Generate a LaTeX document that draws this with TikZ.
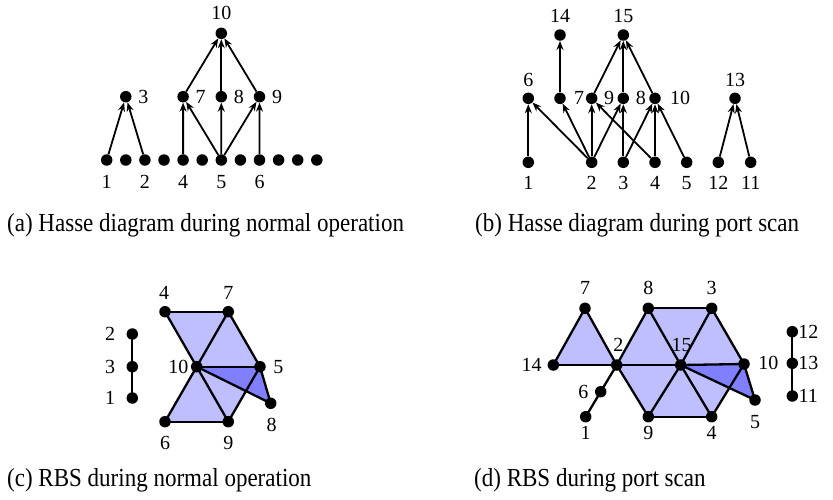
\documentclass[tikz,border=0pt]{standalone}
\usepackage{fontspec}
\setmainfont{Liberation Serif}
\usepackage{graphicx}
\usetikzlibrary{arrows.meta}
\pgfdeclarelayer{bg}
\pgfsetlayers{bg,main}
\definecolor{lite}{RGB}{191,191,255}
\definecolor{dark}{RGB}{128,128,255}
\tikzset{
  vtx/.style={circle, fill=black, inner sep=0pt, minimum size=11.5pt},
  num/.style={font=\fontsize{20}{24}\selectfont, inner sep=0pt},
  captext/.style={font=\fontsize{26}{30}\selectfont, inner sep=0pt, anchor=base west},
  cover/.style={line width=1.8pt, -{Stealth[open, length=9pt, width=7pt]}},
  rbsline/.style={line width=2.3pt},
}
\newcommand{\squeeze}[1]{\scalebox{0.885}[1]{#1}}

\begin{document}
\begin{tikzpicture}[x=1pt, y=-1pt]
    \useasboundingbox (0,0) rectangle (833,499);

    % (a) Hasse diagram, normal operation
    \foreach \i in {0,...,11}
        \node[vtx] (ab\i) at (106.7+19.1*\i, 160) {};
    \node[vtx] (a3) at (125.8, 96.7) {};
    \node[vtx] (a7) at (183.1, 96.7) {};
    \node[vtx] (a8) at (221.3, 96.7) {};
    \node[vtx] (a9) at (259.5, 96.7) {};
    \node[vtx] (a10) at (221.3, 33.3) {};
    \foreach \s/\t in {ab0/a3, ab2/a3, ab4/a7, ab6/a7, ab6/a8, ab6/a9, ab8/a9, a7/a10, a8/a10, a9/a10}
        \draw[cover] (\s) -- (\t);
    \foreach \t/\px/\py in {1/106.7/181.7, 2/144.9/181.7, 4/183.1/181.7, 5/221.3/181.7, 6/259.5/181.7,
                            3/143.3/96.7, 7/200.6/96.7, 8/238.8/96.7, 9/277/96.7, 10/221.3/13.3}
        \node[num] (la\t) at (\px, \py) {\t};

    % (b) Hasse diagram, port scan
    \foreach \nm/\px/\py in {1/528.3/162.3, 2/591.7/162.3, 3/623.3/162.3, 4/655/162.3, 5/686.7/162.3,
                             12/718.3/162.3, 11/750.7/162.3,
                             6/528.3/98.3, 7/560/98.3, 9/591.7/98.3, 8/623.3/98.3, 10/655/98.3, 13/735/98.3,
                             14/560/35, 15/623.3/35}
        \node[vtx] (b\nm) at (\px, \py) {};
    \foreach \s/\t in {b1/b6, b2/b6, b2/b7, b2/b9, b2/b8, b3/b8, b3/b10, b4/b9, b4/b10, b5/b10,
                       b7/b14, b9/b15, b8/b15, b10/b15, b12/b13, b11/b13}
        \draw[cover] (\s) -- (\t);
    \foreach \t/\px/\py in {1/528.3/183.3, 2/591.7/183.3, 3/623.3/183.3, 4/655/183.3, 5/686.7/183.3,
                            12/718.3/183.3, 11/750.7/183.3,
                            6/528.3/80, 7/579/98.3, 9/609.2/98.3, 8/640.8/98.3, 10/680/98.3, 13/735/79.5,
                            14/560/16, 15/623.3/16}
        \node[num] (lb\t) at (\px, \py) {\t};

    % (c) RBS, normal operation
    \foreach \nm/\px/\py in {4/165/311.7, 7/228.3/311.7, 10/196.7/366.7, 5/260/366.7, 8/270.7/403.3,
                             6/165/421.7, 9/228.3/421.7, 2/132.3/334, 3/132.3/366.7, 1/132.3/398}
        \node[vtx] (c\nm) at (\px, \py) {};
    \begin{pgfonlayer}{bg}
        \foreach \p/\q/\r in {c4/c7/c10, c7/c5/c10, c10/c6/c9, c10/c9/c5}
            \fill[lite] (\p.center) -- (\q.center) -- (\r.center) -- cycle;
        \fill[dark] (c10.center) -- (c5.center) -- (c8.center) -- cycle;
        \foreach \s/\t in {c4/c7, c4/c10, c7/c10, c7/c5, c10/c5, c10/c6, c6/c9, c10/c9, c9/c5,
                           c10/c8, c5/c8, c2/c3, c3/c1}
            \draw[rbsline] (\s.center) -- (\t.center);
    \end{pgfonlayer}
    \foreach \t/\px/\py in {2/110/334, 3/110/366.7, 1/110/398, 4/164/293.3, 7/228.3/293.3,
                            10/178.3/366.7, 5/278.3/366.7, 8/271.7/425, 6/165/443.3, 9/228.3/443.3}
        \node[num] (lc\t) at (\px, \py) {\t};

    % (d) RBS, port scan
    \foreach \nm/\px/\py in {7/585/308.3, 14/553.3/365, 2/616.7/365, 6/600.7/391.7, 1/585.7/416.7,
                             8/648.3/308.3, 3/711.7/308.3, 15/680.7/365, 10/744/364, 5/755/400,
                             9/648.3/416.7, 4/711.7/416.7, 12/792.3/331.7, 13/792.3/363.3, 11/792.3/396}
        \node[vtx] (d\nm) at (\px, \py) {};
    \begin{pgfonlayer}{bg}
        \foreach \p/\q/\r in {d14/d7/d2, d2/d8/d15, d8/d3/d15, d3/d10/d15, d2/d15/d9, d9/d15/d4, d15/d4/d10}
            \fill[lite] (\p.center) -- (\q.center) -- (\r.center) -- cycle;
        \fill[dark] (d15.center) -- (d10.center) -- (d5.center) -- cycle;
        \foreach \s/\t in {d14/d7, d7/d2, d14/d2, d2/d8, d8/d3, d8/d15, d2/d15, d3/d15, d3/d10, d15/d10,
                           d2/d9, d9/d15, d9/d4, d15/d4, d4/d10, d15/d5, d10/d5, d2/d6, d6/d1,
                           d12/d13, d13/d11}
            \draw[rbsline] (\s.center) -- (\t.center);
    \end{pgfonlayer}
    \foreach \t/\px/\py in {7/585/288.3, 8/648.3/288.3, 3/711.7/288.3, 14/531.7/365, 2/618.3/345,
                            15/681.7/345, 6/583.3/391.7, 1/585.7/433.3, 9/648.3/433.3, 4/711.7/433.3,
                            5/755/421.7, 10/768.3/363.3, 12/808.3/331.7, 13/808.3/363.3, 11/808.3/396}
        \node[num] (ld\t) at (\px, \py) {\t};

    % Captions
    \node[captext] (capa) at (7, 231) {\squeeze{(a) Hasse diagram during normal operation}};
    \node[captext] (capb) at (475, 231) {\squeeze{(b) Hasse diagram during port scan}};
    \node[captext] (capc) at (7, 486) {\squeeze{(c) RBS during normal operation}};
    \node[captext] (capd) at (474, 486) {\squeeze{(d) RBS during port scan}};

\end{tikzpicture}
\end{document}
